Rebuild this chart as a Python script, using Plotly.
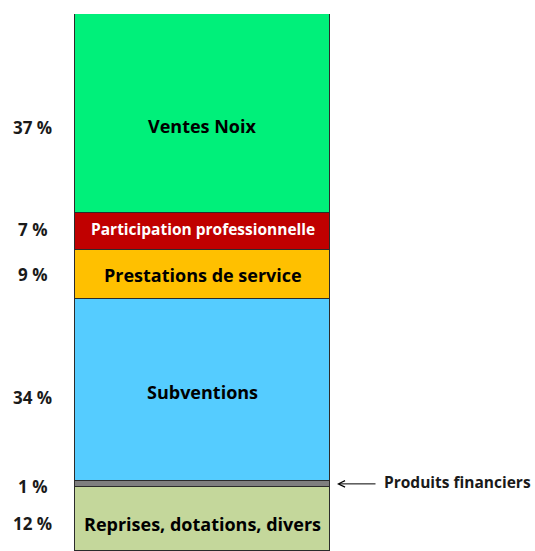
import plotly.graph_objects as go

categories = ["Reprises, dotations, divers", "Produits financiers", "Subventions",
              "Prestations de service", "Participation professionnelle", "Ventes Noix"]
values = [12, 1, 34, 9, 7, 37]
pct_labels = ["12 %", "1 %", "34 %", "9 %", "7 %", "37 %"]
colors = ["#c4d79b", "#7f7f7f", "#55ccff", "#ffc000", "#c00000", "#00f07a"]
text_colors = ["#000000", "#000000", "#000000", "#000000", "#ffffff", "#000000"]
inside_sizes = [18, 0, 18, 18, 15.5, 18]
label_yshift = [-5, -3, -8, 0, 2, -14]
inside_yshift = [-5, 0, -2, -1, 2, -13]

FONT = "Open Sans"
fig = go.Figure()
for cat, v, c in zip(categories, values, colors):
    fig.add_trace(go.Bar(x=[202.5], y=[v], width=255, name=cat,
                         marker=dict(color=c, line=dict(color="#2b2b2b", width=1)),
                         hoverinfo="name+y"))

annotations = []
cum = 0
for i, (cat, v) in enumerate(zip(categories, values)):
    mid = cum + v / 2
    cum += v
    annotations.append(dict(x=32, y=mid, xref="x", yref="y", text="<b>%s</b>" % pct_labels[i],
                            showarrow=False, yshift=label_yshift[i],
                            font=dict(family=FONT, size=17, color="#1a1a1a")))
    if inside_sizes[i] > 0:
        annotations.append(dict(x=202.5, y=mid, xref="x", yref="y", text="<b>%s</b>" % cat,
                                showarrow=False, yshift=inside_yshift[i],
                                font=dict(family=FONT, size=inside_sizes[i], color=text_colors[i])))

fin_mid = values[0] + values[1] / 2
annotations.append(dict(x=337, y=fin_mid, xref="x", yref="y", ax=377, ay=fin_mid,
                        axref="x", ayref="y", text="", showarrow=True, arrowhead=5,
                        arrowsize=1.3, arrowwidth=1, arrowcolor="#000000", yshift=0))
annotations.append(dict(x=382, y=fin_mid, xref="x", yref="y", text="<b>Produits financiers</b>",
                        xanchor="left", showarrow=False, yshift=2,
                        font=dict(family=FONT, size=15.5, color="#1a1a1a")))

fig.update_layout(
    barmode="stack", width=535, height=551,
    margin=dict(l=0, r=0, t=0, b=0),
    paper_bgcolor="white", plot_bgcolor="white",
    showlegend=False, bargap=0,
    xaxis=dict(range=[0, 535], visible=False, fixedrange=True),
    yaxis=dict(range=[0, 100], visible=False, domain=[0, 1 - 14 / 551], fixedrange=True),
    annotations=annotations,
)
fig.write_html("out.html")
